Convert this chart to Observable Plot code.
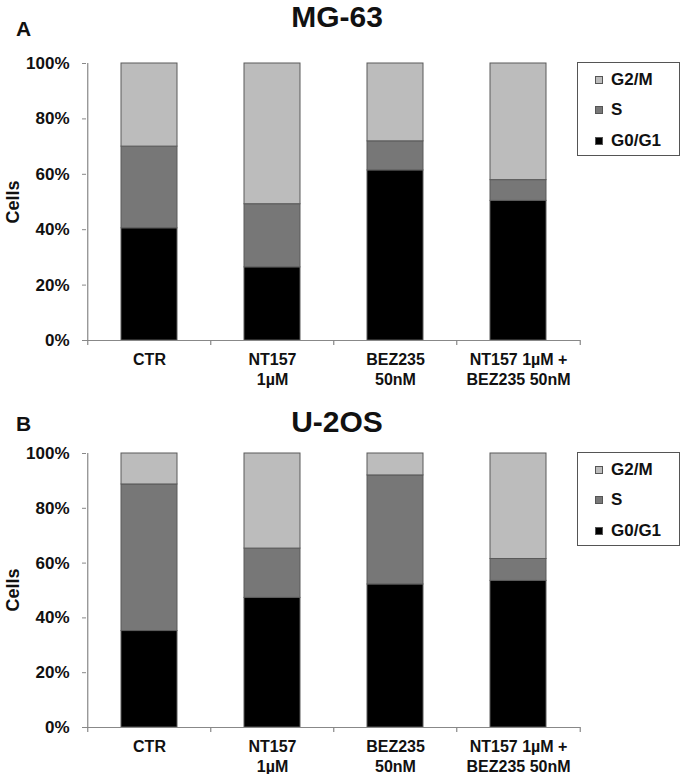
<!DOCTYPE html>
<html>
<head>
<meta charset="utf-8">
<script src="https://cdn.jsdelivr.net/npm/d3@7"></script>
<script src="https://cdn.jsdelivr.net/npm/@observablehq/plot@0.6"></script>
<style>
  html, body { margin: 0; padding: 0; background: #fff; }
  body { width: 686px; font-family: "Liberation Sans", Arial, sans-serif; color: #111; }
  .panel { position: relative; width: 686px; overflow: hidden; }
  .panel svg { position: absolute; left: 0; top: 0; }
  .title { position: absolute; font-weight: bold; font-size: 30px; line-height: 1; white-space: nowrap; transform: translateX(-50%); }
  .letter { position: absolute; font-weight: bold; font-size: 21px; line-height: 1; }
  .ylab { position: absolute; font-weight: bold; font-size: 18px; line-height: 1; transform: translate(-50%, -50%) rotate(-90deg); white-space: nowrap; }
  .legend { position: absolute; left: 577px; width: 101px; height: 92px; border: 1px solid #555; box-sizing: content-box; }
  .legend .row { position: absolute; left: 17px; height: 31px; display: flex; align-items: center; font-weight: bold; font-size: 17px; }
  .legend .sw { width: 6px; height: 6px; border: 1px solid #555; margin-right: 8px; }
</style>
</head>
<body>
<div id="panelA" class="panel" style="height:390px"></div>
<div id="panelB" class="panel" style="height:384px"></div>
<script>
// ---- data ----
const categories = ["CTR", "NT157\n1µM", "BEZ235\n50nM", "NT157 1µM +\nBEZ235 50nM"];
const phases = ["G0/G1", "S", "G2/M"];          // bottom to top
const phaseColors = ["#000000", "#777777", "#bcbcbc"];
const yTicks = [0, 20, 40, 60, 80, 100];

// MG-63 (% of cells)
const mg63_G0G1 = [40.5, 26.4, 61.4, 50.4];
const mg63_S    = [29.5, 22.8, 10.5, 7.5];
const mg63_G2M  = [30.0, 50.8, 28.1, 42.1];

// U-2OS (% of cells)
const u2os_G0G1 = [35.2, 47.3, 52.2, 53.5];
const u2os_S    = [53.5, 18.0, 39.8, 8.0];
const u2os_G2M  = [11.3, 34.7, 8.0, 38.5];

function table(g0, s, g2) {
  const series = [g0, s, g2];
  const rows = [];
  categories.forEach((c, i) => phases.forEach((p, j) => rows.push({cat: c, phase: p, value: series[j][i]})));
  return rows;
}

const W = 686, ML = 86, MR = 106;
const step = (W - ML - MR) / categories.length;

function panel(el, opts) {
  const {name, letter, data, height, mt, mb, titleTop, letterTop} = opts;
  const plot = Plot.plot({
    width: W,
    height,
    marginTop: mt,
    marginBottom: mb,
    marginLeft: ML,
    marginRight: MR,
    style: {fontFamily: '"Liberation Sans", Arial, sans-serif', color: "#111", background: "transparent", overflow: "visible"},
    x: {domain: categories, paddingInner: 0.547, paddingOuter: 0.2735, label: null},
    y: {domain: [0, 100], label: null},
    color: {domain: phases, range: phaseColors},
    marks: [
      Plot.barY(data, Plot.stackY({order: phases}, {x: "cat", y: "value", z: "phase", fill: "phase", stroke: "#5a5a5a", strokeWidth: 1})),
      // y axis line
      Plot.ruleX([categories[0]], {x: d => d, dx: -step / 2, y1: 0, y2: 100, stroke: "#888", strokeWidth: 1.2}),
      // x axis line
      Plot.ruleY([0], {stroke: "#888", strokeWidth: 1.2}),
      // category boundary ticks
      Plot.ruleX(categories, {x: d => d, dx: -step / 2, y1: 0, y2: 0, insetBottom: -5, stroke: "#888", strokeWidth: 1.2}),
      Plot.ruleX([categories[categories.length - 1]], {x: d => d, dx: step / 2, y1: 0, y2: 0, insetBottom: -5, stroke: "#888", strokeWidth: 1.2}),
      Plot.axisY({ticks: yTicks, tickFormat: d => d + "%", tickSize: 4, tickPadding: 13, fontSize: 17, fontWeight: "bold", stroke: "#888", label: null}),
      Plot.axisX({tickSize: 0, tickPadding: 10, fontSize: 16, fontWeight: "bold", lineHeight: 1.25, label: null})
    ]
  });
  el.appendChild(plot);

  const t = document.createElement("div");
  t.className = "title"; t.textContent = name;
  t.style.left = "337px"; t.style.top = titleTop + "px";
  el.appendChild(t);

  const l = document.createElement("div");
  l.className = "letter"; l.textContent = letter;
  l.style.left = "16px"; l.style.top = letterTop + "px";
  el.appendChild(l);

  const yl = document.createElement("div");
  yl.className = "ylab"; yl.textContent = "Cells";
  yl.style.left = "13px"; yl.style.top = ((mt + (height - mb)) / 2) + "px";
  el.appendChild(yl);

  const lg = document.createElement("div");
  lg.className = "legend"; lg.style.top = (mt - 1) + "px";
  phases.slice().reverse().forEach((p, k) => {
    const r = document.createElement("div");
    r.className = "row"; r.style.top = (1 + k * 30.5) + "px";
    const sw = document.createElement("div");
    sw.className = "sw"; sw.style.background = phaseColors[phases.indexOf(p)];
    const tx = document.createElement("span"); tx.textContent = p;
    r.appendChild(sw); r.appendChild(tx);
    lg.appendChild(r);
  });
  el.appendChild(lg);
}

panel(document.getElementById("panelA"), {
  name: "MG-63", letter: "A", data: table(mg63_G0G1, mg63_S, mg63_G2M),
  height: 390, mt: 63, mb: 50, titleTop: 2, letterTop: 18
});
panel(document.getElementById("panelB"), {
  name: "U-2OS", letter: "B", data: table(u2os_G0G1, u2os_S, u2os_G2M),
  height: 384, mt: 63, mb: 47, titleTop: 17, letterTop: 23
});
</script>
</body>
</html>
